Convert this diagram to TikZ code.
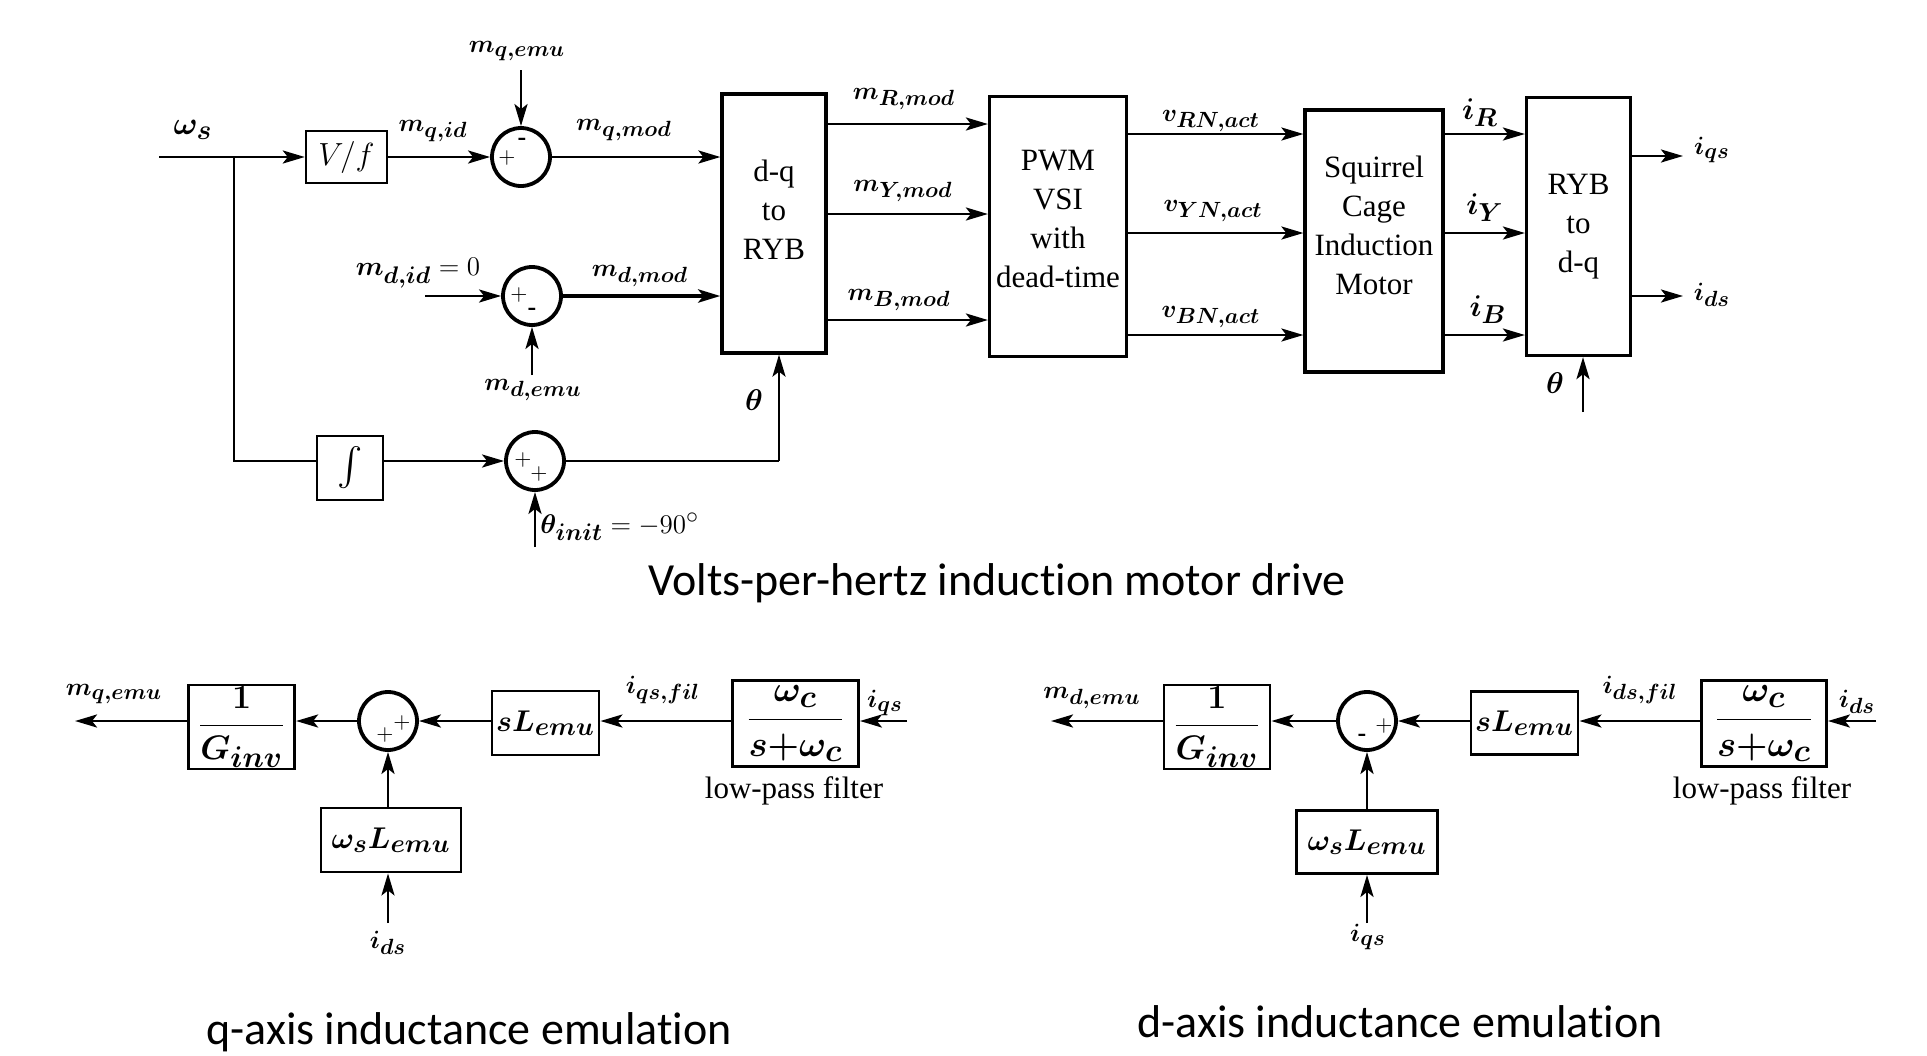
\RequirePackage{fix-cm}
\documentclass[tikz,border=0pt]{standalone}
\usepackage[no-math]{fontspec}
\setmainfont{Liberation Serif}
\newfontfamily\capfont[Ligatures=NoCommon]{Carlito}
\usepackage{bm}
\DeclareMathSizes{12.5}{12.5}{11}{9}
\DeclareMathSizes{13.5}{13.5}{12}{9}
\DeclareMathSizes{15}{15}{13}{10}
\DeclareMathSizes{16}{16}{14}{11}
\DeclareMathSizes{17}{17}{15}{12}
\DeclareMathSizes{18}{18}{16}{12}
\usetikzlibrary{arrows.meta}
\begin{document}
\begin{tikzpicture}[x=0.5pt,y=-0.5pt,
  >={Stealth[length=11pt,width=6.5pt,inset=2.5pt]},
  wire/.style={line width=1.4pt,->},
  plain/.style={line width=1.4pt},
  blk/.style={draw, line width=1.6pt, inner sep=0pt, font=\fontsize{15.5}{19.5}\selectfont, align=center},
  sblk/.style={draw, line width=1.2pt, inner sep=0pt},
  mblk/.style={draw, line width=1.4pt, inner sep=0pt, font=\fontsize{15}{18}\selectfont\boldmath},
  fblk/.style={draw, line width=1.4pt, inner sep=0pt, font=\fontsize{17}{20}\selectfont\boldmath},
  lblk/.style={draw, line width=1.4pt, inner sep=0pt, font=\fontsize{18}{20}\selectfont\boldmath},
  sumc/.style={draw, circle, line width=1.9pt, minimum size=29pt, inner sep=0pt},
  lab/.style={font=\fontsize{12.5}{15}\selectfont\boldmath, inner sep=0pt},
  nlab/.style={font=\fontsize{13.5}{16}\selectfont, inner sep=0pt},
  ftxt/.style={font=\fontsize{15.5}{18}\selectfont, inner sep=0pt},
  sgn/.style={font=\fontsize{11}{11}\selectfont, inner sep=0pt},
  msgn/.style={font=\fontsize{13}{13}\selectfont\bfseries, inner sep=0pt},
  captxt/.style={font=\capfont\fontsize{23}{26}\selectfont, inner sep=0pt, anchor=base}
]
\useasboundingbox (0,0) rectangle (1927,1055);

% ---------------- top: V/f drive ----------------
\node[sblk, minimum width=40.5pt, minimum height=26pt] (vf) at (346.5,157) {\fontsize{16}{16}\selectfont$V/f$};
\node[sblk, minimum width=33pt, minimum height=32pt] (intg) at (350,468) {\scalebox{1.9}{$\int$}};
\node[sumc] (sq) at (521,157) {};
\node[sumc] (sd) at (532,296) {};
\node[sumc] (st) at (535,461) {};
\node[blk, minimum width=52pt, minimum height=129.5pt] (dq) at (774,223.5) {d-q\\to\\RYB\\[-5.5pt]};
\node[blk, minimum width=68.5pt, minimum height=130pt] (pwm) at (1058,226.5) {PWM\\VSI\\with\\dead-time\\[-12pt]};
\node[blk, minimum width=69pt, minimum height=131pt] (mot) at (1374,241) {Squirrel\\Cage\\Induction\\Motor\\[-3.5pt]};
\node[blk, minimum width=52pt, minimum height=129pt] (ryb) at (1578.5,226.5) {RYB\\to\\d-q};

% signs
\node[sgn] at ([shift={(-14,1)}]sq.center) {$+$};
\node[msgn] at ([shift={(1,-15)}]sq.center) {-};
\node[sgn] at ([shift={(-13,-1)}]sd.center) {$+$};
\node[msgn] at ([shift={(0,16)}]sd.center) {-};
\node[sgn] at ([shift={(-12,-1)}]st.center) {$+$};
\node[sgn] at ([shift={(4,13)}]st.center) {$+$};

% coordinates
\coordinate (win) at (159,157);
\coordinate (br) at (234,157);
\coordinate (mdin) at (425,296);
\coordinate (mqemu) at (521,70);
\coordinate (mdemu) at (532,375);
\coordinate (tinit) at (535,547);
\coordinate (tc) at (779,461);
\coordinate (ra) at (0,124); \coordinate (ya) at (0,214); \coordinate (ba) at (0,320);
\coordinate (rb) at (0,134); \coordinate (yb) at (0,233); \coordinate (bb) at (0,335);
\coordinate (iqo) at (1683,156); \coordinate (ido) at (1683,296);
\coordinate (thr) at (1583,412);

% connectors
\draw[wire] (win) -- (vf.west);
\draw[plain] (br) |- (intg.west |- st);
\draw[wire] (vf.east) -- (sq.west);
\draw[wire] (sq.east) -- (sq -| dq.west);
\draw[wire] (mqemu) -- (sq.north);
\draw[wire] (mdin) -- (sd.west);
\draw[wire, line width=2.3pt] (sd.east) -- (sd -| dq.west);
\draw[wire] (mdemu) -- (sd.south);
\draw[wire] (intg.east |- st) -- (st.west);
\draw[wire] (tinit) -- (st.south);
\draw[plain] (st.east) -- (tc);
\draw[wire] (tc) -- (tc |- dq.south);
\draw[wire] (dq.east |- ra) -- (pwm.west |- ra);
\draw[wire] (dq.east |- ya) -- (pwm.west |- ya);
\draw[wire] (dq.east |- ba) -- (pwm.west |- ba);
\draw[wire] (pwm.east |- rb) -- (mot.west |- rb);
\draw[wire] (pwm.east |- yb) -- (mot.west |- yb);
\draw[wire] (pwm.east |- bb) -- (mot.west |- bb);
\draw[wire] (mot.east |- rb) -- (ryb.west |- rb);
\draw[wire] (mot.east |- yb) -- (ryb.west |- yb);
\draw[wire] (mot.east |- bb) -- (ryb.west |- bb);
\draw[wire] (ryb.east |- iqo) -- (iqo);
\draw[wire] (ryb.east |- ido) -- (ido);
\draw[wire] (thr) -- (thr |- ryb.south);

% labels
\node[lab, font=\fontsize{16}{18}\selectfont\boldmath] at (193,130) {$\omega_s$};
\node[lab] at (433,131) {$m_{q,id}$};
\node[lab] at (517,51) {$m_{q,emu}$};
\node[lab] at (624,130) {$m_{q,mod}$};
\node[nlab] at (418,273) {$\bm{m_{d,id}} = 0$};
\node[lab] at (640,276) {$m_{d,mod}$};
\node[lab] at (533,390) {$m_{d,emu}$};
\node[nlab, anchor=west] at (540,527) {$\bm{\theta_{init}} = -90^\circ$};
\node[lab, font=\fontsize{15}{18}\selectfont\boldmath] at (754,400) {$\theta$};
\node[lab] at (904,99) {$m_{R,mod}$};
\node[lab] at (903,191) {$m_{Y,mod}$};
\node[lab] at (899,300) {$m_{B,mod}$};
\node[lab] at (1211,121) {$v_{RN,act}$};
\node[lab] at (1213,211) {$v_{YN,act}$};
\node[lab] at (1211,317) {$v_{BN,act}$};
\node[lab, font=\fontsize{15}{18}\selectfont\boldmath] at (1480,113) {$i_R$};
\node[lab, font=\fontsize{15}{18}\selectfont\boldmath] at (1485,208) {$i_Y$};
\node[lab, font=\fontsize{15}{18}\selectfont\boldmath] at (1488,310) {$i_B$};
\node[lab] at (1712,150) {$i_{qs}$};
\node[lab] at (1712,295) {$i_{ds}$};
\node[lab, font=\fontsize{15}{18}\selectfont\boldmath] at (1555,383) {$\theta$};
\node[captxt] at (997,595) {Volts-per-hertz induction motor drive};

% ---------------- bottom left: q-axis ----------------
\node[fblk, minimum width=53pt, minimum height=42pt] (gq) at (241.7,727) {${\displaystyle\frac{1}{G_{inv}}}$};
\node[sumc] (cq) at (388,721) {};
\node[mblk, minimum width=53.5pt, minimum height=32pt] (slq) at (545.5,723) {$sL_{emu}$};
\node[mblk, minimum width=70pt, minimum height=32pt] (wslq) at (391,840) {$\omega_sL_{emu}$};
\node[lblk, minimum width=63pt, minimum height=43pt] (lpq) at (795.5,723.7) {${\displaystyle\frac{\omega_c}{s{+}\omega_c}}$};
\node[sgn] at ([shift={(-3,14)}]cq.center) {$+$};
\node[sgn] at ([shift={(14,2)}]cq.center) {$+$};
\coordinate (mqo) at (75,721);
\coordinate (iqin) at (907,721);
\coordinate (idsb) at (388,923);
\draw[wire] (gq.west |- cq) -- (mqo);
\draw[wire] (cq.west) -- (cq -| gq.east);
\draw[wire] (slq.west |- cq) -- (cq.east);
\draw[wire] (lpq.west |- cq) -- (slq.east |- cq);
\draw[wire] (iqin) -- (lpq.east |- cq);
\draw[wire] (wslq.north -| cq) -- (cq.south);
\draw[wire] (idsb) -- (idsb |- wslq.south);
\node[lab] at (114,694) {$m_{q,emu}$};
\node[lab] at (663,690) {$i_{qs,fil}$};
\node[lab] at (885,703) {$i_{qs}$};
\node[lab] at (388,943) {$i_{ds}$};
\node[ftxt] at (794,791) {low-pass filter};
\node[captxt] at (469,1044) {q-axis inductance emulation};

% ---------------- bottom right: d-axis ----------------
\node[fblk, minimum width=53pt, minimum height=42pt] (gd) at (1217,727) {${\displaystyle\frac{1}{G_{inv}}}$};
\node[sumc] (cd) at (1367,721) {};
\node[mblk, minimum width=53.5pt, minimum height=31.5pt] (sld) at (1524.5,723) {$sL_{emu}$};
\node[mblk, minimum width=70.5pt, minimum height=31.5pt] (wsld) at (1367,842) {$\omega_sL_{emu}$};
\node[lblk, minimum width=62.5pt, minimum height=43pt] (lpd) at (1764,723.7) {${\displaystyle\frac{\omega_c}{s{+}\omega_c}}$};
\node[msgn] at ([shift={(-5,17)}]cd.center) {-};
\node[sgn] at ([shift={(17,5)}]cd.center) {$+$};
\coordinate (mdo) at (1051,721);
\coordinate (idin) at (1876,721);
\coordinate (iqsb) at (1367,923);
\draw[wire] (gd.west |- cd) -- (mdo);
\draw[wire] (cd.west) -- (cd -| gd.east);
\draw[wire] (sld.west |- cd) -- (cd.east);
\draw[wire] (lpd.west |- cd) -- (sld.east |- cd);
\draw[wire] (idin) -- (lpd.east |- cd);
\draw[wire] (wsld.north -| cd) -- (cd.south);
\draw[wire] (iqsb) -- (iqsb |- wsld.south);
\node[lab] at (1092,698) {$m_{d,emu}$};
\node[lab] at (1640,690) {$i_{ds,fil}$};
\node[lab] at (1857,702) {$i_{ds}$};
\node[lab] at (1368,937) {$i_{qs}$};
\node[ftxt] at (1762,791) {low-pass filter};
\node[captxt] at (1400,1037) {d-axis inductance emulation};
\end{tikzpicture}
\end{document}
